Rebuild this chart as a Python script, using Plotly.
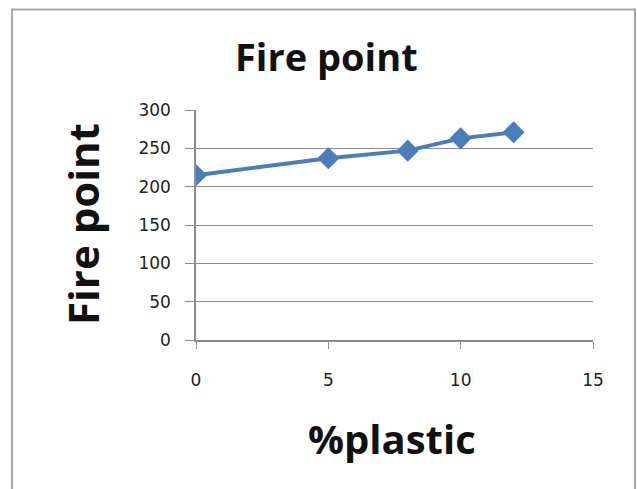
import plotly.graph_objects as go

# Fire point measured against plastic content
plastic_pct = [0, 5, 8, 10, 12]
fire_point = [215, 237, 247, 263, 271]

W, H = 637, 489
L, R, T, B = 196, 44, 110, 149
pw, ph = W - L - R, H - T - B


def px_x(x):
    return (x - L) / pw


def px_y(y):
    return (H - B - y) / ph


fig = go.Figure(
    go.Scatter(
        x=plastic_pct,
        y=fire_point,
        mode="lines+markers",
        line=dict(color="#4a7ebb", width=4),
        marker=dict(symbol="diamond", size=17, color="#4a7ebb"),
        showlegend=False,
    )
)

axis_font = dict(family="DejaVu Sans", size=17, color="#222222")

fig.update_xaxes(
    range=[0, 15],
    tickvals=[0, 5, 10, 15],
    showgrid=False,
    zeroline=False,
    showline=True,
    linecolor="#8c8c8c",
    linewidth=1.5,
    ticks="outside",
    ticklen=7,
    tickcolor="#8c8c8c",
    tickfont=axis_font,
    ticklabelstandoff=17,
)
fig.update_yaxes(
    range=[0, 300],
    tickvals=[0, 50, 100, 150, 200, 250, 300],
    showgrid=True,
    gridcolor="#8c8c8c",
    gridwidth=1.2,
    zeroline=False,
    showline=True,
    linecolor="#8c8c8c",
    linewidth=1.5,
    ticks="outside",
    ticklen=9,
    tickcolor="#8c8c8c",
    tickfont=axis_font,
    ticklabelstandoff=11,
)

title_font = dict(family="Open Sans", color="#111111")


def label(text, cx, cy, size, angle=0):
    return dict(
        text=text,
        xref="paper",
        yref="paper",
        x=px_x(cx),
        y=px_y(cy),
        xanchor="center",
        yanchor="middle",
        textangle=angle,
        showarrow=False,
        font=dict(size=size, **title_font),
    )


fig.update_layout(
    width=W,
    height=H,
    margin=dict(l=L, r=R, t=T, b=B),
    paper_bgcolor="white",
    plot_bgcolor="white",
    shapes=[
        dict(
            type="rect",
            xref="paper",
            yref="paper",
            x0=px_x(12),
            x1=px_x(635),
            y0=px_y(500),
            y1=px_y(9.5),
            line=dict(color="#a6a6a6", width=2),
            layer="below",
        )
    ],
    annotations=[
        label("<b>Fire point</b>", 326, 56, 38),
        label("<b>Fire point</b>", 82, 224, 42, angle=-90),
        label("<b>%plastic</b>", 392, 438, 40),
    ],
)

fig.write_html("out.html")
